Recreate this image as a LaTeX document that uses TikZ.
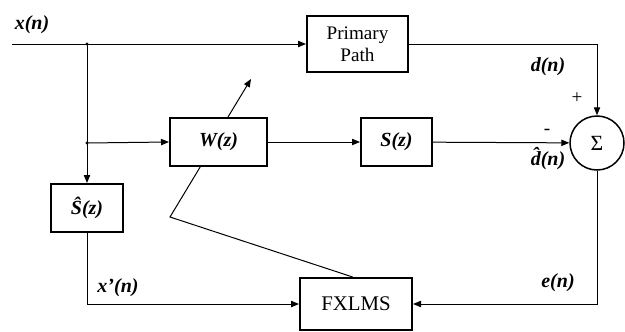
\documentclass[tikz,border=0pt]{standalone}
\usepackage{fontspec}
\setmainfont{Liberation Serif}
\usetikzlibrary{arrows.meta}
\tikzset{
  blk/.style={draw,line width=1.2pt,minimum height=28.8pt,inner sep=0pt,align=center},
  sig/.style={font=\fontsize{12}{13}\selectfont\bfseries\itshape},
  >={Triangle[length=4.8pt,width=3.8pt]}
}
\begin{document}
\begin{tikzpicture}[x=0.6pt,y=0.6pt,font=\fontsize{11.5}{13}\selectfont,line width=0.6pt]
  \useasboundingbox (0,0) rectangle (625,-331);
  % blocks
  \node[blk,minimum width=60.6pt,minimum height=33.6pt] (pp) at (357.5,-44) {Primary\\Path};
  \node[blk,minimum width=58.2pt,sig] (w) at (218.5,-142) {W(z)};
  \node[blk,minimum width=42.6pt,sig] (s) at (396.5,-142) {S(z)};
  \node[blk,minimum width=43.2pt,sig] (sh) at (87,-208) {\^{S}(z)};
  \node[blk,minimum width=67.2pt,minimum height=31.2pt,font=\fontsize{12.5}{14}\selectfont] (fx) at (356,-304) {FXLMS};
  \node[draw,circle,minimum size=32.4pt,inner sep=0pt,line width=0.9pt,font=\fontsize{13}{14}\selectfont] (sum) at (597,-143) {Σ};
  % points
  \coordinate (in) at (12,-44);
  \coordinate (b1) at (87,-44);
  \coordinate (b2) at (87,-143);
  \coordinate (wtip) at (251,-79);
  \coordinate (bend) at (170,-217);
  \fill (b1) circle (1.6);
  \fill (b2) circle (1.6);
  % signal lines
  \draw (in) -- (b1);
  \draw[->] (b1) -- (pp.west);
  \draw[->] (pp.east) -| (sum.north);
  \draw (b1) -- (b2);
  \draw[->] (b2) -- (sh.north);
  \draw[->] (b2) -- (w.west);
  \draw[->] (w) -- (s);
  \draw[->] (s) -- (sum);
  \draw[->] (sum.south) |- (fx.east);
  \draw[->] (sh.south) |- (fx.west);
  \draw[->] ([xshift=5.7pt]w.north) -- (wtip);
  \draw ([xshift=-11pt]w.south) -- (bend) -- ([xshift=-2pt]fx.north);
  % labels
  \foreach \nm/\pos/\txt in {lx/{32,-25}/x(n),ld/{548,-67}/d(n),ldh/{548,-159}/{\^{d}(n)},lxp/{118,-288}/x'(n),le/{558,-283}/e(n)}{
    \node[sig] (\nm) at (\pos) {\txt};
  }
  \node (lp) at (577,-98) {+};
  \node (lm) at (547,-132) {-};
\end{tikzpicture}
\end{document}
